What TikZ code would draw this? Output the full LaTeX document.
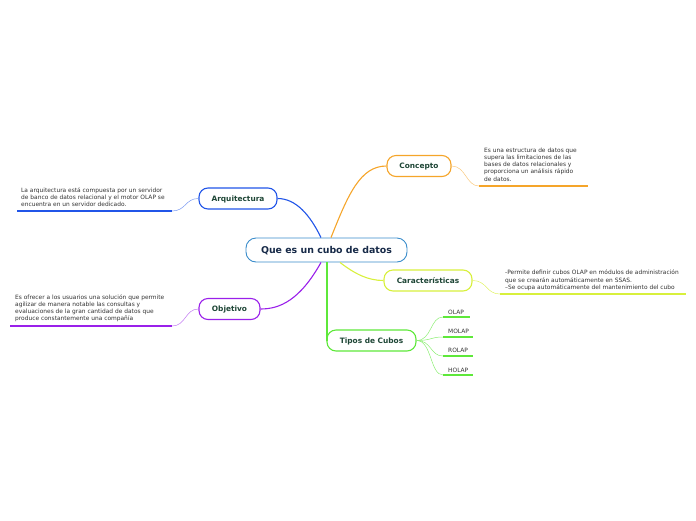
\documentclass[tikz,border=0pt]{standalone}
\usepackage{fontspec}
\setmainfont{DejaVu Sans}
\begin{document}
\begin{tikzpicture}[x=1pt,y=-1pt,
  topic/.style={draw=#1, line width=1.1pt, rounded corners=9pt, fill=white, font=\bfseries\fontsize{7.4}{8}\selectfont, text=labelgreen, inner sep=0pt, minimum height=21pt, text depth=0pt},
  leaf/.style={anchor=north west, inner sep=0pt, align=left, font=\fontsize{5.9}{7.1}\selectfont, text=leafgray},
  branch/.style={draw=#1, line width=1.1pt},
  thin/.style={draw=#1, line width=0.5pt},
  uline/.style={draw=#1, line width=1.5pt},
]
\definecolor{labelgreen}{HTML}{1E4636}
\definecolor{leafgray}{HTML}{333333}
\definecolor{cblue}{HTML}{3A8CCB}
\definecolor{arqblue}{HTML}{2155E8}
\definecolor{corange}{HTML}{F5A52A}
\definecolor{cyellow}{HTML}{D8F03C}
\definecolor{cgreen}{HTML}{5EE83A}
\definecolor{cpurple}{HTML}{9A20EA}
\definecolor{navy}{HTML}{172A48}

\useasboundingbox (0,0) rectangle (696,520);

% central
\node[draw=cblue, line width=0.9pt, rounded corners=10pt, fill=white, minimum width=161pt, minimum height=24pt, inner sep=0pt, text depth=0pt, font=\bfseries\fontsize{9.4}{11}\selectfont, text=navy] (c) at (326.5,250) {Que es un cubo de datos};

% branch nodes
\node[topic=arqblue, minimum width=78pt] (arq) at (238,198.5) {Arquitectura};
\node[topic=corange, minimum width=64pt] (con) at (419,166) {Concepto};
\node[topic=cyellow, minimum width=88pt] (car) at (428,280.5) {Características};
\node[topic=cgreen, minimum width=89pt] (tip) at (371.5,340.5) {Tipos de Cubos};
\node[topic=cpurple, minimum width=61pt] (obj) at (229.5,309) {Objetivo};

% leaf texts
\node[leaf] (tcon) at (484,148) {Es una estructura de datos que\\supera las limitaciones de las\\bases de datos relacionales y\\proporciona un análisis rápido\\de datos.};
\node[leaf] (tarq) at (21,187.5) {La arquitectura está compuesta por un servidor\\de banco de datos relacional y el motor OLAP se\\encuentra en un servidor dedicado.};
\node[leaf] (tobj) at (15,294.5) {Es ofrecer a los usuarios una solución que permite\\agilizar de manera notable las consultas y\\evaluaciones de la gran cantidad de datos que\\produce constantemente una compañía};
\node[leaf] (tcar) at (505,270) {-Permite definir cubos OLAP en módulos de administración\\que se crearán automáticamente en SSAS.\\--Se ocupa automáticamente del mantenimiento del cubo};
\node[leaf] (olap) at (448,309.5) {OLAP};
\node[leaf] (molap) at (448,328.5) {MOLAP};
\node[leaf] (rolap) at (448,347.5) {ROLAP};
\node[leaf] (holap) at (448,367.5) {HOLAP};

% underline coordinates
\coordinate (ucon1) at (479,186); \coordinate (ucon2) at (588,186);
\coordinate (uarq1) at (172,211); \coordinate (uarq2) at (17,211);
\coordinate (uobj1) at (172,326); \coordinate (uobj2) at (10,326);
\coordinate (ucar1) at (500,294); \coordinate (ucar2) at (686,294);
\coordinate (uo1) at (443,317); \coordinate (uo2) at (470,317);
\coordinate (um1) at (443,337); \coordinate (um2) at (473,337);
\coordinate (ur1) at (443,356); \coordinate (ur2) at (473,356);
\coordinate (uh1) at (443,375); \coordinate (uh2) at (473,375);

% main branches
\draw[branch=arqblue] ([xshift=-5.5pt]c.north) .. controls (310,215) and (296,198.5) .. (arq.east);
\draw[branch=corange] ([xshift=4.5pt]c.north) .. controls (348,195) and (360,166) .. (con.west);
\draw[branch=cyellow] ([xshift=13.5pt]c.south) .. controls (355,274) and (368,280.5) .. (car.west);
\draw[branch=cgreen] ([xshift=0.5pt]c.south) -- (327,340.5) -- (tip.west);
\draw[branch=cpurple] ([xshift=-5.5pt]c.south) .. controls (300,300) and (280,309) .. (obj.east);

% thin connectors
\draw[thin=corange!60] (con.east) .. controls (466,166) and (466,186) .. (ucon1);
\draw[thin=arqblue!60] (arq.west) .. controls (185,198.5) and (186,211) .. (uarq1);
\draw[thin=cpurple!60] (obj.west) .. controls (185,309) and (186,326) .. (uobj1);
\draw[thin=cyellow!80] (car.east) .. controls (487,280.5) and (486,294) .. (ucar1);
\draw[thin=cgreen!70] (tip.east) .. controls (432,340.5) and (430,317) .. (uo1);
\draw[thin=cgreen!70] (tip.east) .. controls (432,340.5) and (430,337) .. (um1);
\draw[thin=cgreen!70] (tip.east) .. controls (432,340.5) and (430,356) .. (ur1);
\draw[thin=cgreen!70] (tip.east) .. controls (432,340.5) and (430,375) .. (uh1);

% underlines
\draw[uline=corange] (ucon1) -- (ucon2);
\draw[uline=arqblue] (uarq1) -- (uarq2);
\draw[uline=cpurple] (uobj1) -- (uobj2);
\draw[uline=cyellow] (ucar1) -- (ucar2);
\draw[uline=cgreen] (uo1) -- (uo2);
\draw[uline=cgreen] (um1) -- (um2);
\draw[uline=cgreen] (ur1) -- (ur2);
\draw[uline=cgreen] (uh1) -- (uh2);
\end{tikzpicture}
\end{document}
